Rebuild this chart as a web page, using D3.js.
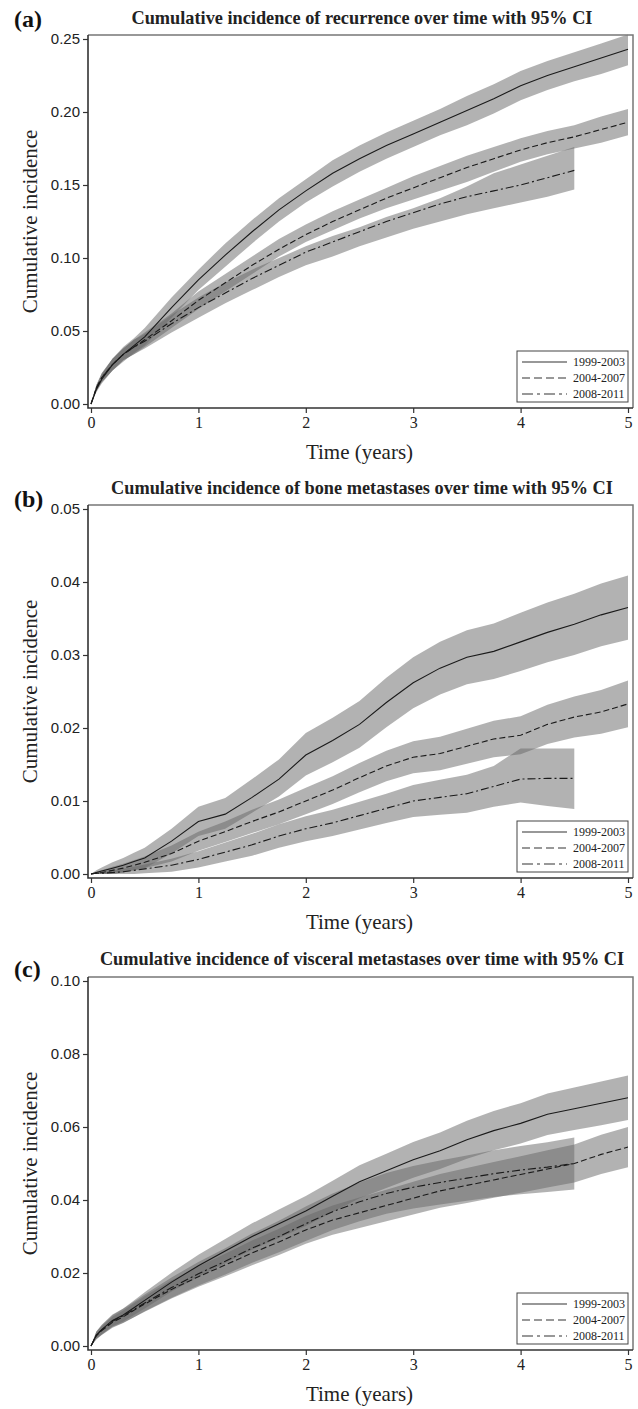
<!DOCTYPE html>
<html>
<head>
<meta charset="utf-8">
<script src="https://cdn.jsdelivr.net/npm/d3@7"></script>
<style>
  body { margin: 0; background: #fff; }
  svg { display: block; }
</style>
</head>
<body>
<div id="chart-area"></div>
<script>

// ---- data ----
const periods = ['1999-2003', '2004-2007', '2008-2011']
const years = [0, 1, 2, 3, 4, 5]
const timeGrid = [0, 0.05, 0.1, 0.2, 0.3, 0.4, 0.5, 0.75, 1, 1.25, 1.5, 1.75, 2, 2.25, 2.5, 2.75, 3, 3.25, 3.5, 3.75, 4, 4.25, 4.5, 4.75, 5]

// (a) recurrence
const recur99   = [0, 0.010, 0.017, 0.027, 0.034, 0.040, 0.046, 0.066, 0.085, 0.102, 0.118, 0.133, 0.146, 0.158, 0.168, 0.177, 0.185, 0.193, 0.201, 0.209, 0.218, 0.225, 0.231, 0.237, 0.243]
const recur99Lo = [0, 0.008, 0.014, 0.023, 0.029, 0.035, 0.040, 0.059, 0.078, 0.094, 0.110, 0.125, 0.138, 0.149, 0.159, 0.168, 0.176, 0.184, 0.191, 0.199, 0.208, 0.215, 0.221, 0.226, 0.232]
const recur99Hi = [0, 0.012, 0.020, 0.031, 0.039, 0.045, 0.052, 0.073, 0.092, 0.110, 0.126, 0.141, 0.154, 0.167, 0.177, 0.186, 0.194, 0.202, 0.211, 0.219, 0.228, 0.235, 0.241, 0.247, 0.253]
const recur04   = [0, 0.011, 0.018, 0.027, 0.034, 0.039, 0.044, 0.057, 0.071, 0.083, 0.095, 0.106, 0.116, 0.125, 0.133, 0.141, 0.148, 0.155, 0.162, 0.168, 0.174, 0.179, 0.183, 0.188, 0.193]
const recur04Lo = [0, 0.009, 0.015, 0.023, 0.030, 0.034, 0.039, 0.052, 0.065, 0.077, 0.089, 0.101, 0.111, 0.119, 0.127, 0.134, 0.140, 0.146, 0.152, 0.159, 0.166, 0.171, 0.175, 0.179, 0.184]
const recur04Hi = [0, 0.013, 0.021, 0.031, 0.038, 0.044, 0.049, 0.062, 0.077, 0.089, 0.101, 0.113, 0.123, 0.132, 0.140, 0.148, 0.156, 0.163, 0.170, 0.176, 0.182, 0.187, 0.191, 0.197, 0.202]
const recur08   = [0, 0.011, 0.018, 0.027, 0.034, 0.039, 0.043, 0.055, 0.066, 0.076, 0.086, 0.095, 0.104, 0.111, 0.118, 0.125, 0.131, 0.137, 0.142, 0.146, 0.150, 0.155, 0.160]
const recur08Lo = [0, 0.009, 0.015, 0.023, 0.030, 0.034, 0.038, 0.049, 0.059, 0.069, 0.078, 0.087, 0.095, 0.101, 0.108, 0.114, 0.120, 0.125, 0.130, 0.134, 0.138, 0.142, 0.147]
const recur08Hi = [0, 0.013, 0.021, 0.031, 0.038, 0.044, 0.048, 0.061, 0.073, 0.083, 0.092, 0.100, 0.108, 0.115, 0.121, 0.128, 0.134, 0.141, 0.149, 0.158, 0.164, 0.170, 0.176]

// (b) bone metastases
const bone99   = [0, 0.0002, 0.0004, 0.0008, 0.0012, 0.0017, 0.0022, 0.0045, 0.0072, 0.0082, 0.0105, 0.0130, 0.0163, 0.0183, 0.0205, 0.0235, 0.0262, 0.0282, 0.0297, 0.0305, 0.0318, 0.0331, 0.0342, 0.0355, 0.0365]
const bone99Lo = [0, 0, 0, 0, 0.0002, 0.0005, 0.0008, 0.0028, 0.0052, 0.0062, 0.0084, 0.0106, 0.0135, 0.0153, 0.0173, 0.0201, 0.0227, 0.0246, 0.0260, 0.0267, 0.0278, 0.0290, 0.0300, 0.0312, 0.0321]
const bone99Hi = [0, 0.0005, 0.0009, 0.0016, 0.0022, 0.0029, 0.0036, 0.0062, 0.0092, 0.0104, 0.0130, 0.0157, 0.0193, 0.0214, 0.0237, 0.0269, 0.0297, 0.0318, 0.0334, 0.0343, 0.0358, 0.0372, 0.0384, 0.0398, 0.0409]
const bone04   = [0, 0.0001, 0.0002, 0.0005, 0.0008, 0.0012, 0.0016, 0.0028, 0.0045, 0.0058, 0.0072, 0.0085, 0.0100, 0.0115, 0.0132, 0.0148, 0.0160, 0.0165, 0.0175, 0.0185, 0.0190, 0.0205, 0.0215, 0.0222, 0.0233]
const bone04Lo = [0, 0, 0, 0, 0.0002, 0.0005, 0.0008, 0.0017, 0.0032, 0.0044, 0.0056, 0.0068, 0.0082, 0.0096, 0.0112, 0.0127, 0.0138, 0.0142, 0.0151, 0.0160, 0.0164, 0.0178, 0.0187, 0.0192, 0.0201]
const bone04Hi = [0, 0.0003, 0.0005, 0.0010, 0.0014, 0.0019, 0.0024, 0.0039, 0.0058, 0.0072, 0.0088, 0.0102, 0.0118, 0.0134, 0.0152, 0.0169, 0.0182, 0.0188, 0.0199, 0.0210, 0.0216, 0.0232, 0.0243, 0.0252, 0.0265]
const bone08   = [0, 0.0001, 0.0001, 0.0002, 0.0003, 0.0005, 0.0007, 0.0012, 0.0020, 0.0030, 0.0040, 0.0052, 0.0062, 0.0070, 0.0080, 0.0090, 0.0100, 0.0105, 0.0110, 0.0120, 0.0130, 0.0131, 0.0131]
const bone08Lo = [0, 0, 0, 0, 0, 0, 0.0001, 0.0003, 0.0009, 0.0017, 0.0025, 0.0036, 0.0045, 0.0052, 0.0061, 0.0070, 0.0078, 0.0081, 0.0084, 0.0092, 0.0098, 0.0093, 0.0089]
const bone08Hi = [0, 0.0002, 0.0003, 0.0005, 0.0007, 0.0010, 0.0013, 0.0021, 0.0031, 0.0043, 0.0055, 0.0068, 0.0079, 0.0088, 0.0099, 0.0110, 0.0122, 0.0129, 0.0136, 0.0148, 0.0172, 0.0172, 0.0172]

// (c) visceral metastases
const visc99   = [0, 0.0030, 0.0045, 0.0070, 0.0085, 0.0105, 0.0125, 0.0175, 0.0220, 0.0260, 0.0300, 0.0335, 0.0370, 0.0410, 0.0450, 0.0480, 0.0510, 0.0535, 0.0565, 0.0590, 0.0610, 0.0635, 0.0650, 0.0665, 0.0680]
const visc99Lo = [0, 0.0020, 0.0032, 0.0054, 0.0067, 0.0085, 0.0103, 0.0149, 0.0190, 0.0227, 0.0264, 0.0296, 0.0329, 0.0367, 0.0405, 0.0433, 0.0461, 0.0485, 0.0513, 0.0536, 0.0555, 0.0578, 0.0592, 0.0605, 0.0619]
const visc99Hi = [0, 0.0040, 0.0058, 0.0086, 0.0103, 0.0125, 0.0147, 0.0201, 0.0250, 0.0293, 0.0336, 0.0374, 0.0411, 0.0453, 0.0495, 0.0527, 0.0559, 0.0585, 0.0617, 0.0644, 0.0665, 0.0692, 0.0708, 0.0725, 0.0741]
const visc04   = [0, 0.0028, 0.0042, 0.0065, 0.0080, 0.0098, 0.0115, 0.0155, 0.0190, 0.0222, 0.0255, 0.0285, 0.0318, 0.0345, 0.0365, 0.0385, 0.0405, 0.0425, 0.0440, 0.0455, 0.0470, 0.0485, 0.0500, 0.0525, 0.0545]
const visc04Lo = [0, 0.0018, 0.0030, 0.0050, 0.0063, 0.0079, 0.0094, 0.0130, 0.0162, 0.0191, 0.0221, 0.0249, 0.0280, 0.0305, 0.0323, 0.0342, 0.0360, 0.0379, 0.0392, 0.0406, 0.0420, 0.0434, 0.0448, 0.0471, 0.0490]
const visc04Hi = [0, 0.0038, 0.0054, 0.0080, 0.0097, 0.0117, 0.0136, 0.0180, 0.0218, 0.0253, 0.0289, 0.0321, 0.0356, 0.0385, 0.0407, 0.0428, 0.0450, 0.0471, 0.0488, 0.0504, 0.0520, 0.0536, 0.0552, 0.0579, 0.0600]
const visc08   = [0, 0.0030, 0.0044, 0.0068, 0.0083, 0.0100, 0.0118, 0.0160, 0.0198, 0.0232, 0.0268, 0.0300, 0.0335, 0.0368, 0.0395, 0.0418, 0.0435, 0.0448, 0.0460, 0.0472, 0.0482, 0.0490, 0.0500]
const visc08Lo = [0, 0.0020, 0.0031, 0.0052, 0.0064, 0.0079, 0.0095, 0.0132, 0.0166, 0.0196, 0.0228, 0.0257, 0.0288, 0.0318, 0.0342, 0.0362, 0.0377, 0.0388, 0.0398, 0.0408, 0.0416, 0.0422, 0.0429]
const visc08Hi = [0, 0.0040, 0.0057, 0.0084, 0.0102, 0.0121, 0.0141, 0.0188, 0.0230, 0.0268, 0.0308, 0.0343, 0.0382, 0.0418, 0.0448, 0.0474, 0.0493, 0.0508, 0.0522, 0.0536, 0.0548, 0.0558, 0.0571]

const recurTicks = [0, 0.05, 0.10, 0.15, 0.20, 0.25]
const boneTicks = [0, 0.01, 0.02, 0.03, 0.04, 0.05]
const viscTicks = [0, 0.02, 0.04, 0.06, 0.08, 0.10]

// ---- layout ----
const WIDTH = 638
const HEIGHT = 1409
const X0 = 91, X5 = 628          // pixel of t=0 and t=5
const FRAME_L = 88, FRAME_R = 633
const PLOT_H = 365
const DASHES = [null, '6,3', '8,3,2,3']
const LEGEND_DASHES = [null, '8,4', '11,4,3,4']

const svg = d3.select('#chart-area').append('svg')
    .attr('width', WIDTH)
    .attr('height', HEIGHT)

const x = d3.scaleLinear().domain([0, 5]).range([X0, X5])

const panels = [
  { letter: '(a)', letterY: 27, titleY: 24, top: 39,
    title: 'Cumulative incidence of recurrence over time with 95% CI',
    ticks: recurTicks,
    series: [[recur99, recur99Lo, recur99Hi], [recur04, recur04Lo, recur04Hi], [recur08, recur08Lo, recur08Hi]] },
  { letter: '(b)', letterY: 507, titleY: 494, top: 509,
    title: 'Cumulative incidence of bone metastases over time with 95% CI',
    ticks: boneTicks,
    series: [[bone99, bone99Lo, bone99Hi], [bone04, bone04Lo, bone04Hi], [bone08, bone08Lo, bone08Hi]] },
  { letter: '(c)', letterY: 977, titleY: 965, top: 981,
    title: 'Cumulative incidence of visceral metastases over time with 95% CI',
    ticks: viscTicks,
    series: [[visc99, visc99Lo, visc99Hi], [visc04, visc04Lo, visc04Hi], [visc08, visc08Lo, visc08Hi]] }
]

panels.forEach((p) => {
    const y = d3.scaleLinear()
        .domain([0, p.ticks[p.ticks.length - 1]])
        .range([p.top + PLOT_H, p.top])
    const fTop = p.top - 4
    const fBot = p.top + PLOT_H + 4

    const g = svg.append('g')

    // confidence bands
    p.series.forEach((s) => {
        const rows = s[0].map((v, i) => ({ t: timeGrid[i], v: v, lo: s[1][i], hi: s[2][i] }))
        const area = d3.area()
            .x(d => x(d.t))
            .y0(d => y(d.lo))
            .y1(d => y(d.hi))
        g.append('path')
            .datum(rows)
            .attr('d', area)
            .attr('fill', '#666')
            .attr('fill-opacity', 0.5)
    })

    // estimate lines
    p.series.forEach((s, k) => {
        const rows = s[0].map((v, i) => ({ t: timeGrid[i], v: v }))
        const line = d3.line()
            .x(d => x(d.t))
            .y(d => y(d.v))
        g.append('path')
            .datum(rows)
            .attr('d', line)
            .attr('fill', 'none')
            .attr('stroke', '#1a1a1a')
            .attr('stroke-width', 1.1)
            .attr('stroke-dasharray', DASHES[k])
    })

    // frame: light top/right, dark left/bottom
    g.append('path')
        .attr('d', `M${FRAME_L},${fTop}H${FRAME_R}V${fBot}`)
        .attr('fill', 'none')
        .attr('stroke', '#777')
        .attr('stroke-width', 1.5)
    g.append('path')
        .attr('d', `M${FRAME_L},${fTop}V${fBot}H${FRAME_R}`)
        .attr('fill', 'none')
        .attr('stroke', '#333')
        .attr('stroke-width', 1.6)

    // axes
    const yAxis = g.append('g')
        .attr('transform', `translate(${FRAME_L}, 0)`)
        .call(d3.axisLeft(y).tickValues(p.ticks).tickFormat(d3.format('.2f')).tickSize(5).tickPadding(3))
    yAxis.select('.domain').remove()
    yAxis.selectAll('line').attr('stroke', '#333').attr('stroke-width', 1.2)
    yAxis.selectAll('text')
        .attr('font-family', 'Liberation Sans, Arial, sans-serif')
        .attr('font-size', 15)
        .attr('fill', '#222')

    const xAxis = g.append('g')
        .attr('transform', `translate(0, ${fBot})`)
        .call(d3.axisBottom(x).tickValues(years).tickFormat(d3.format('d')).tickSize(5).tickPadding(4))
    xAxis.select('.domain').remove()
    xAxis.selectAll('line').attr('stroke', '#333').attr('stroke-width', 1.2)
    xAxis.selectAll('text')
        .attr('font-family', 'Liberation Serif, Times New Roman, serif')
        .attr('font-size', 16)
        .attr('fill', '#222')

    // axis titles
    g.append('text')
        .attr('x', (X0 + X5) / 2)
        .attr('y', fBot + 51)
        .attr('text-anchor', 'middle')
        .attr('font-family', 'Liberation Serif, Times New Roman, serif')
        .attr('font-size', 21)
        .attr('fill', '#222')
        .text('Time (years)')

    g.append('text')
        .attr('transform', `translate(37, ${(fTop + fBot) / 2}) rotate(-90)`)
        .attr('text-anchor', 'middle')
        .attr('font-family', 'Liberation Serif, Times New Roman, serif')
        .attr('font-size', 21)
        .attr('fill', '#222')
        .text('Cumulative incidence')

    // panel title + letter
    g.append('text')
        .attr('x', 362)
        .attr('y', p.titleY)
        .attr('text-anchor', 'middle')
        .attr('font-family', 'Liberation Serif, Times New Roman, serif')
        .attr('font-weight', 'bold')
        .attr('font-size', 18.3)
        .attr('fill', '#222')
        .text(p.title)

    g.append('text')
        .attr('x', 14)
        .attr('y', p.letterY)
        .attr('font-family', 'Liberation Serif, Times New Roman, serif')
        .attr('font-weight', 'bold')
        .attr('font-size', 24)
        .attr('fill', '#111')
        .text(p.letter)

    // legend
    const lg = g.append('g')
    lg.append('rect')
        .attr('x', 517).attr('y', fBot - 57)
        .attr('width', 111).attr('height', 51)
        .attr('fill', '#fff')
        .attr('stroke', '#444')
        .attr('stroke-width', 1)
    periods.forEach((name, k) => {
        const ly = fBot - 46 + k * 16
        lg.append('line')
            .attr('x1', 522).attr('x2', 567)
            .attr('y1', ly).attr('y2', ly)
            .attr('stroke', '#333')
            .attr('stroke-width', 1.1)
            .attr('stroke-dasharray', LEGEND_DASHES[k])
        lg.append('text')
            .attr('x', 573).attr('y', ly + 4)
            .attr('font-family', 'Liberation Serif, Times New Roman, serif')
            .attr('font-size', 12)
            .attr('fill', '#222')
            .text(name)
    })
})

</script>
</body>
</html>
